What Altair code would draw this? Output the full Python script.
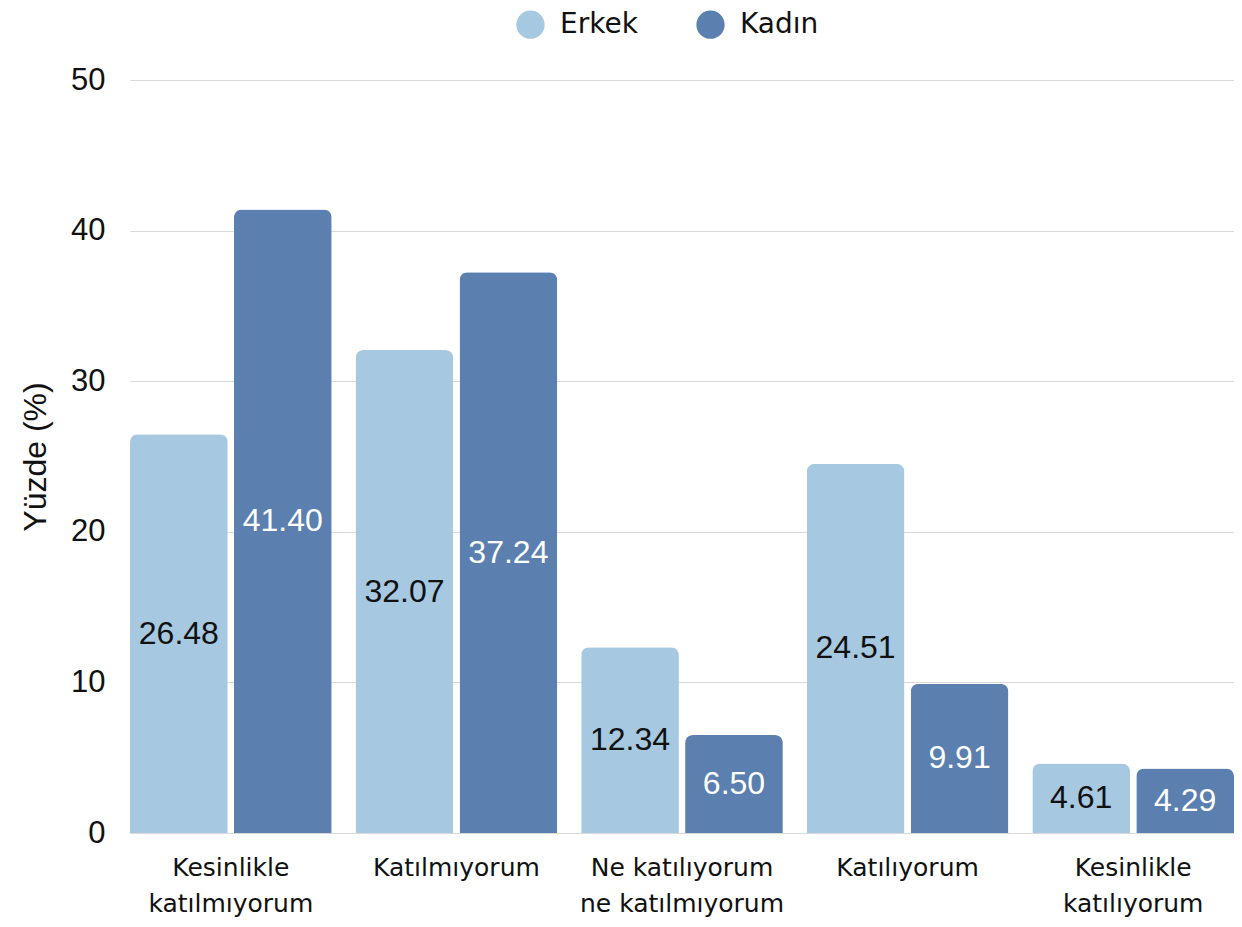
import altair as alt
import pandas as pd

categories = ["Kesinlikle|katılmıyorum", "Katılmıyorum", "Ne katılıyorum|ne katılmıyorum",
              "Katılıyorum", "Kesinlikle|katılıyorum"]
groups = ["Erkek", "Kadın"]
erkek = [26.48, 32.07, 12.34, 24.51, 4.61]
kadin = [41.40, 37.24, 6.50, 9.91, 4.29]
colors = ["#a6c8e0", "#5b7fae"]

rows = []
for c, e, k in zip(categories, erkek, kadin):
    rows.append({"cat": c, "grp": "Erkek", "val": e})
    rows.append({"cat": c, "grp": "Kadın", "val": k})
df = pd.DataFrame(rows)

GEO = "DejaVu Sans"
NUM = "Liberation Sans"

x = alt.X("cat:N", sort=categories, title=None,
          scale=alt.Scale(paddingInner=0.106, paddingOuter=0.0),
          axis=alt.Axis(labelAngle=0, labelExpr="split(datum.label, '|')",
                        labelFontSize=25, labelColor="#111", labelFont=GEO,
                        labelLineHeight=36, labelPadding=22, labelBaseline="top",
                        domain=False, ticks=False, labelLimit=300))
xo = alt.XOffset("grp:N", sort=groups, scale=alt.Scale(paddingInner=0.06))

base = alt.Chart(df)

bars = base.mark_bar(cornerRadiusTopLeft=8, cornerRadiusTopRight=8).encode(
    x=x, xOffset=xo,
    y=alt.Y("val:Q", title="Yüzde (%)",
            scale=alt.Scale(domain=[0, 50], nice=False),
            axis=alt.Axis(values=[0, 10, 20, 30, 40, 50], domain=False, ticks=False,
                          labelFontSize=31, labelColor="#111", labelFont=NUM,
                          labelPadding=25, titleFontSize=32, titleFont=NUM,
                          titleFontWeight="normal", titleColor="#111", titlePadding=18,
                          gridColor="#d9d9d9", gridWidth=1.2)),
    color=alt.Color("grp:N", sort=groups,
                    scale=alt.Scale(domain=groups, range=colors),
                    legend=alt.Legend(title=None, orient="none", direction="horizontal",
                                      legendX=386, legendY=-70, symbolType="circle",
                                      symbolSize=800, symbolStrokeWidth=0,
                                      labelFontSize=28, labelFont=GEO, labelColor="#111",
                                      columnPadding=58, labelOffset=15)),
)

labels = base.transform_calculate(mid="datum.val / 2").mark_text(
    fontSize=32, font=NUM, baseline="middle").encode(
    x=x, xOffset=xo,
    y=alt.Y("mid:Q"),
    text=alt.Text("val:Q", format=".2f"),
    color=alt.condition(alt.datum.grp == "Erkek", alt.value("#111111"), alt.value("#ffffff")),
)

chart = alt.layer(bars, labels).properties(
    width=1104, height=753,
    autosize=alt.AutoSizeParams(type="none"),
    padding={"left": 122, "top": 72, "right": 0, "bottom": 86},
).configure(background="white").configure_view(stroke=None)

chart.save("out.html", embed_options={"renderer": "svg", "actions": False})
